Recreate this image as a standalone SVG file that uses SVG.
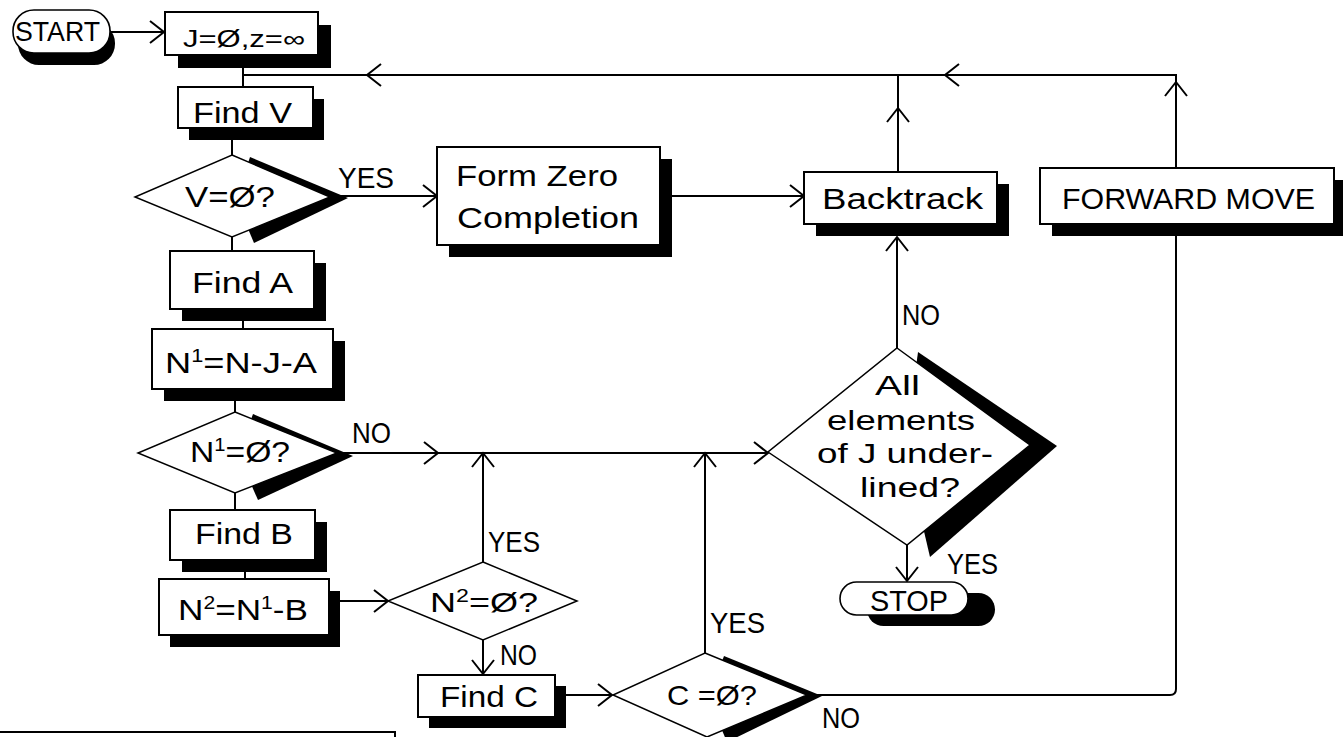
<svg xmlns="http://www.w3.org/2000/svg" width="1343" height="737" viewBox="0 0 1343 737">
<defs>
<style>
.box{fill:#fff;stroke:#000;stroke-width:2}
.pill{fill:#fff;stroke:#000;stroke-width:1.6}
.dia{fill:#fff;stroke:#000;stroke-width:1.5}
.sh{fill:#000}
.ln{fill:none;stroke:#000;stroke-width:2}
.t{font-family:"Liberation Sans",Arial,sans-serif;fill:#000;font-size:30px}
.s28{font-size:28px}
.s23{font-size:23px}
.sup{font-size:18px}
</style>
<marker id="ah" viewBox="-20 -15 30 30" markerWidth="30" markerHeight="30" refX="0" refY="0" orient="auto" markerUnits="userSpaceOnUse" overflow="visible">
<path d="M-14,-11 L0,0 L-14,11" fill="none" stroke="#000" stroke-width="2"/>
</marker>
</defs>
<rect width="1343" height="737" fill="#fff"/>

<g id="connectors">
<path class="ln" d="M110,32 H164" marker-end="url(#ah)"/>
<path class="ln" d="M243,68 V87"/>
<path class="ln" d="M1176,168 V82" marker-end="url(#ah)"/>
<path class="ln" d="M1176,82 V75 H945" marker-end="url(#ah)"/>
<path class="ln" d="M945,75 H367" marker-end="url(#ah)"/>
<path class="ln" d="M367,75 H243"/>
<path class="ln" d="M898,172 V108" marker-end="url(#ah)"/>
<path class="ln" d="M898,108 V75"/>
<path class="ln" d="M232,138 V155"/>
<path class="ln" d="M330,196 H437" marker-end="url(#ah)"/>
<path class="ln" d="M660,196 H804" marker-end="url(#ah)"/>
<path class="ln" d="M232,237 V251"/>
<path class="ln" d="M243,320 V329"/>
<path class="ln" d="M235,400 V412"/>
<path class="ln" d="M235,493 V510"/>
<path class="ln" d="M245,570 V579"/>
<path class="ln" d="M329,601 H388" marker-end="url(#ah)"/>
<path class="ln" d="M337,453 H438" marker-end="url(#ah)"/>
<path class="ln" d="M438,453 H768" marker-end="url(#ah)"/>
<path class="ln" d="M483,562 V453" marker-end="url(#ah)"/>
<path class="ln" d="M483,640 V674" marker-end="url(#ah)"/>
<path class="ln" d="M555,695 H612" marker-end="url(#ah)"/>
<path class="ln" d="M705,653 V453" marker-end="url(#ah)"/>
<path class="ln" d="M807,695 H1170 Q1176,695 1176,689 V224"/>
<path class="ln" d="M897,348 V237" marker-end="url(#ah)"/>
<path class="ln" d="M907,545 V581" marker-end="url(#ah)"/>
</g>

<g id="start">
<rect class="sh" x="18" y="22" width="97" height="43" rx="21"/>
<rect class="pill" x="13" y="10" width="97" height="43" rx="21"/>
<text class="t s28" x="15" y="41" textLength="85" lengthAdjust="spacingAndGlyphs">START</text>
</g>

<g id="init">
<rect class="sh" x="178" y="25" width="153" height="43"/>
<rect class="box" x="165" y="12" width="153" height="43"/>
<text class="t s23" x="183" y="47" textLength="122" lengthAdjust="spacingAndGlyphs">J=Ø,z=∞</text>
</g>

<g id="findV">
<rect class="sh" x="189" y="99" width="135" height="41"/>
<rect class="box" x="178" y="87" width="135" height="41"/>
<text class="t" x="193" y="123" textLength="99" lengthAdjust="spacingAndGlyphs">Find V</text>
</g>

<g id="decV">
<polygon class="sh" points="250,157 348,198 254,243 236,200"/>
<polygon class="dia" points="232,155 330,197 232,237 135,197"/>
<text class="t" x="185" y="207" textLength="90" lengthAdjust="spacingAndGlyphs">V=Ø?</text>
</g>

<g id="formZero">
<rect class="sh" x="449" y="159" width="223" height="98"/>
<rect class="box" x="437" y="147" width="223" height="98"/>
<text class="t" x="456" y="186" textLength="162" lengthAdjust="spacingAndGlyphs">Form Zero</text>
<text class="t" x="457" y="228" textLength="182" lengthAdjust="spacingAndGlyphs">Completion</text>
</g>

<g id="backtrack">
<rect class="sh" x="816" y="184" width="193" height="52"/>
<rect class="box" x="804" y="172" width="193" height="52"/>
<text class="t" x="822" y="209" textLength="161" lengthAdjust="spacingAndGlyphs">Backtrack</text>
</g>

<g id="forward">
<rect class="sh" x="1052" y="180" width="294" height="56"/>
<rect class="box" x="1040" y="168" width="294" height="56"/>
<text class="t" x="1062" y="209" textLength="253" lengthAdjust="spacingAndGlyphs">FORWARD MOVE</text>
</g>

<g id="findA">
<rect class="sh" x="182" y="263" width="144" height="58"/>
<rect class="box" x="170" y="251" width="144" height="58"/>
<text class="t" x="192" y="293" textLength="101" lengthAdjust="spacingAndGlyphs">Find A</text>
</g>

<g id="n1box">
<rect class="sh" x="164" y="341" width="181" height="60"/>
<rect class="box" x="152" y="329" width="181" height="60"/>
<text class="t" x="165" y="373" textLength="152" lengthAdjust="spacingAndGlyphs">N<tspan class="sup" dy="-11">1</tspan><tspan dy="11">=N-J-A</tspan></text>
</g>

<g id="decN1">
<polygon class="sh" points="253,414 353,456 258,500 238,455"/>
<polygon class="dia" points="235,412 337,453 235,493 138,453"/>
<text class="t" x="190" y="462" textLength="100" lengthAdjust="spacingAndGlyphs">N<tspan class="sup" dy="-11">1</tspan><tspan dy="11">=Ø?</tspan></text>
</g>

<g id="findB">
<rect class="sh" x="182" y="522" width="145" height="50"/>
<rect class="box" x="170" y="510" width="145" height="50"/>
<text class="t" x="195" y="544" textLength="98" lengthAdjust="spacingAndGlyphs">Find B</text>
</g>

<g id="n2box">
<rect class="sh" x="170" y="591" width="170" height="56"/>
<rect class="box" x="159" y="579" width="170" height="56"/>
<text class="t" x="178" y="620" textLength="130" lengthAdjust="spacingAndGlyphs">N<tspan class="sup" dy="-11">2</tspan><tspan dy="11">=N</tspan><tspan class="sup" dy="-11">1</tspan><tspan dy="11">-B</tspan></text>
</g>

<g id="decN2">
<polygon class="dia" points="483,562 577,601 483,640 388,601"/>
<text class="t s28" x="430" y="612" textLength="108" lengthAdjust="spacingAndGlyphs">N<tspan class="sup" dy="-10">2</tspan><tspan dy="10">=Ø?</tspan></text>
</g>

<g id="findC">
<rect class="sh" x="429" y="686" width="137" height="42"/>
<rect class="box" x="418" y="675" width="137" height="42"/>
<text class="t" x="440" y="707" textLength="98" lengthAdjust="spacingAndGlyphs">Find C</text>
</g>

<g id="decC">
<polygon class="sh" points="724,656 822,696 727,742 708,697"/>
<polygon class="dia" points="705,653 807,695 707,737 613,695"/>
<text class="t s28" x="667" y="705" textLength="90" lengthAdjust="spacingAndGlyphs">C =Ø?</text>
</g>

<g id="decAll">
<polygon class="sh" points="918,352 1057,446 930,557 905,450"/>
<polygon class="dia" points="897,348 1030,445 907,545 768,452"/>
<text class="t s28" x="875" y="395" textLength="45" lengthAdjust="spacingAndGlyphs">All</text>
<text class="t s28" x="827" y="430" textLength="148" lengthAdjust="spacingAndGlyphs">elements</text>
<text class="t s28" x="817" y="463" textLength="176" lengthAdjust="spacingAndGlyphs">of J under-</text>
<text class="t s28" x="860" y="497" textLength="100" lengthAdjust="spacingAndGlyphs">lined?</text>
</g>

<g id="stop">
<rect class="sh" x="867" y="593" width="128" height="33" rx="16.5"/>
<rect class="pill" x="840" y="582" width="128" height="33" rx="16.5"/>
<text class="t" x="870" y="611" textLength="78" lengthAdjust="spacingAndGlyphs">STOP</text>
</g>

<g id="partialBox">
<rect class="box" x="-3" y="732" width="398" height="20"/>
</g>

<g id="labels">
<text class="t" x="338" y="188" textLength="56" lengthAdjust="spacingAndGlyphs">YES</text>
<text class="t" x="352" y="443" textLength="39" lengthAdjust="spacingAndGlyphs">NO</text>
<text class="t" x="488" y="552" textLength="52" lengthAdjust="spacingAndGlyphs">YES</text>
<text class="t" x="500" y="665" textLength="37" lengthAdjust="spacingAndGlyphs">NO</text>
<text class="t" x="710" y="633" textLength="55" lengthAdjust="spacingAndGlyphs">YES</text>
<text class="t" x="822" y="728" textLength="38" lengthAdjust="spacingAndGlyphs">NO</text>
<text class="t" x="902" y="325" textLength="38" lengthAdjust="spacingAndGlyphs">NO</text>
<text class="t" x="947" y="574" textLength="51" lengthAdjust="spacingAndGlyphs">YES</text>
</g>
</svg>
